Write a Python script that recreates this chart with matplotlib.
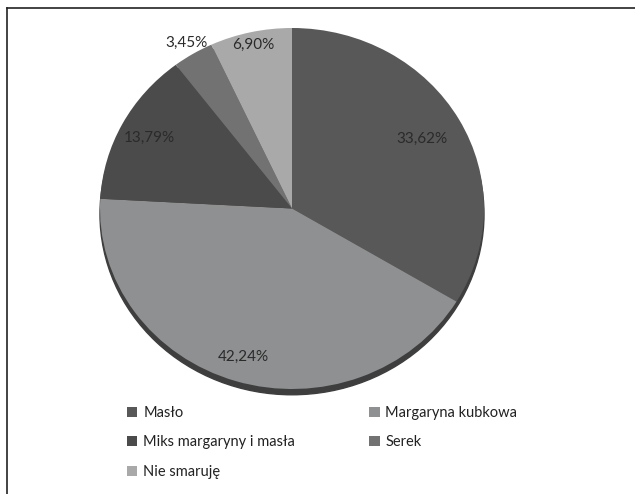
import matplotlib.pyplot as plt
import numpy as np
from matplotlib.patches import Ellipse, Patch

categories = ["Masło", "Margaryna kubkowa", "Miks margaryny i masła", "Serek", "Nie smaruję"]
values = [33.62, 42.24, 13.79, 3.45, 6.90]
colors = ["#585858", "#8f9091", "#4b4b4b", "#727272", "#a9a9aa"]
label_dist = [0.78, 0.86, 0.84, 1.07, 0.93]

plt.rcParams['font.family'] = ['Lato', 'DejaVu Sans']

W, H = 635, 494
fig = plt.figure(figsize=(W / 100, H / 100), dpi=100)

# frame lines (top and left only)
fig.add_artist(plt.Line2D([7 / W, 1], [1 - 8 / H, 1 - 8 / H], color="#222222", lw=1.2))
fig.add_artist(plt.Line2D([7 / W, 7 / W], [0, 1 - 8 / H], color="#222222", lw=1.2))

# pie axes: x 100..484, y 28..389 (pixels from top)
x0, x1, y0, y1 = 100, 484, 28, 389
ax = fig.add_axes([x0 / W, 1 - y1 / H, (x1 - x0) / W, (y1 - y0) / H])

shadow = Ellipse((0, -0.032), 2, 2, color="#3e3e3e", zorder=0, clip_on=False)
ax.add_patch(shadow)

wedges, texts = ax.pie(values, colors=colors, startangle=90, counterclock=False,
                       wedgeprops=dict(linewidth=0), labels=None)
ax.set_aspect('auto')
ax.set_xlim(-1, 1)
ax.set_ylim(-1, 1)
ax.axis('off')

for w, v, d in zip(wedges, values, label_dist):
    mid = np.deg2rad((w.theta1 + w.theta2) / 2)
    ax.text(d * np.cos(mid), d * np.sin(mid), f"{v:.2f}%".replace('.', ','),
            ha='center', va='center', fontsize=11, color="#2a2a2a")

order = [0, 2, 4, 1, 3]
handles = [Patch(facecolor=colors[i], edgecolor='none') for i in order]
labels = [categories[i] for i in order]
fig.legend(handles, labels, ncol=2, loc='upper left',
           bbox_to_anchor=(114 / W, 1 - 393 / H), frameon=False,
           fontsize=10.5, handlelength=0.7, handleheight=0.7, handletextpad=0.4,
           columnspacing=5.1, labelspacing=1.05, labelcolor="#222222")

fig.savefig("out.png", dpi=100)
